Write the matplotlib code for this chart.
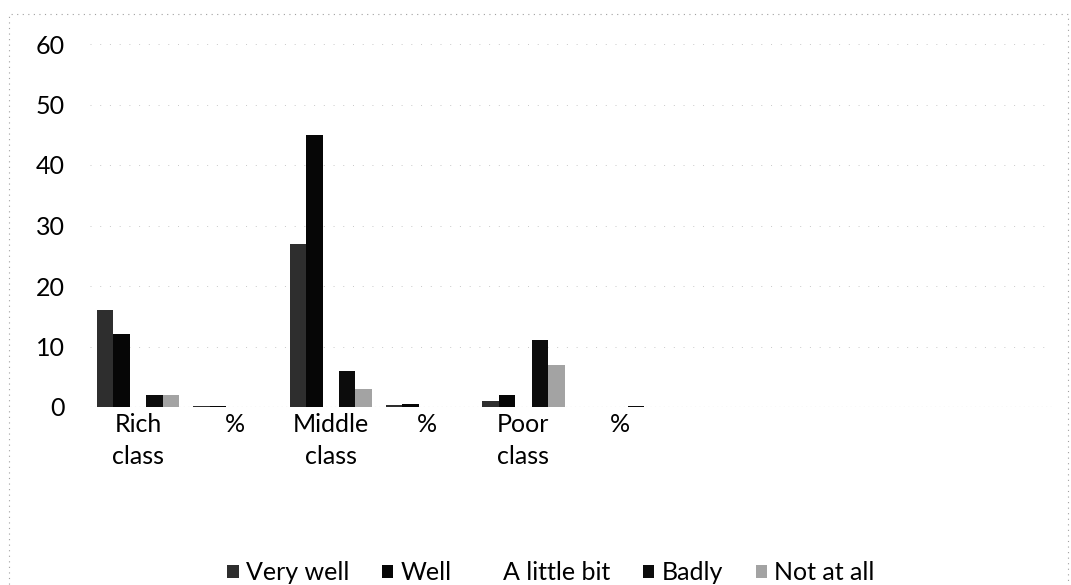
import matplotlib
matplotlib.use("Agg")
import matplotlib.pyplot as plt
from matplotlib.patches import Rectangle, Patch
import numpy as np

plt.rcParams['font.family'] = ['Lato', 'DejaVu Sans']

categories = ["Rich\nclass", "%", "Middle\nclass", "%", "Poor\nclass", "%", "", "", "", ""]
series_names = ["Very well", "Well", "A little bit", "Badly", "Not at all"]
very_well = [16, 0.16, 27, 0.27, 1, 0.01, 0, 0, 0, 0]
well = [12, 0.12, 45, 0.45, 2, 0.02, 0, 0, 0, 0]
a_little_bit = [0, 0, 0, 0, 0, 0, 0, 0, 0, 0]
badly = [2, 0.02, 6, 0.06, 11, 0.11, 0, 0, 0, 0]
not_at_all = [2, 0.02, 3, 0.03, 7, 0.07, 0, 0, 0, 0]
y_ticks = [0, 10, 20, 30, 40, 50, 60]

series = [very_well, well, a_little_bit, badly, not_at_all]
colors = ["#2e2e2e", "#060606", "#ffffff", "#0c0c0c", "#a3a3a3"]

W, H = 1071, 585
fig = plt.figure(figsize=(W / 100, H / 100), dpi=100)
ax = fig.add_axes([90 / W, 1 - 407 / H, 963 / W, (407 - 44) / H])

x = np.arange(len(categories))
bw = 0.171
for i, (vals, c) in enumerate(zip(series, colors)):
    ax.bar(x + (i - 2) * bw, vals, width=bw, color=c, linewidth=0,
           label=series_names[i], zorder=3)

ax.set_xlim(-0.5, len(categories) - 0.5)
ax.set_ylim(0, 60)
ax.set_yticks(y_ticks)
ax.set_yticklabels([str(v) for v in y_ticks], fontsize=18)
ax.set_xticks(x)
ax.set_xticklabels(categories, fontsize=18, linespacing=1.5)
ax.tick_params(axis='both', length=0)
ax.tick_params(axis='y', pad=18)
ax.tick_params(axis='x', pad=4)
for s in ax.spines.values():
    s.set_visible(False)
ax.yaxis.grid(True, color="#c8c8c8", linewidth=0.7, linestyle=(0, (1, 9)), zorder=0)
ax.axhline(0, color="#9a9a9a", linewidth=0.8, linestyle=(0, (1, 3)), zorder=2)

# legend
handles = []
for n, c in zip(series_names, colors):
    handles.append(Patch(facecolor=c, edgecolor='none', label=n))
fig.legend(handles=handles, loc='center', bbox_to_anchor=(551 / W, 1 - 573 / H),
           ncol=5, frameon=False, fontsize=18, handlelength=0.45, handleheight=0.45,
           handletextpad=0.3, columnspacing=1.3, borderpad=0.1)

# outer dotted chart border
fig.patches.append(Rectangle((9 / W, -0.05), (1068 - 9) / W, 1.05 - 14 / H,
                             transform=fig.transFigure, fill=False,
                             edgecolor="#a0a0a0", linewidth=0.8,
                             linestyle=(0, (1, 4))))

fig.savefig("out.png", dpi=100)
